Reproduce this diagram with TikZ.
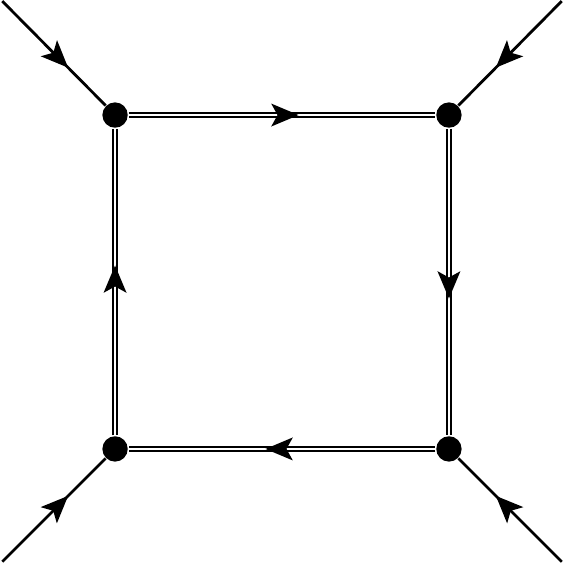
\documentclass[tikz,border=0pt]{standalone}
\usetikzlibrary{decorations.markings,arrows.meta,calc,positioning}
\newcommand{\tipfill}{\fill (0.3pt,0) -- (-6.6pt,2.9pt) -- (-5pt,0) -- (-6.6pt,-2.9pt) -- cycle;}
\tikzset{
    vertex/.style={circle, fill=black, inner sep=0pt, minimum size=6.4pt},
    leg/.style={line width=0.7pt, postaction={decorate},
        decoration={markings, mark=at position 0.63 with {\tipfill}}},
    dline/.style={double, double distance=0.5pt, line width=0.6pt, postaction={decorate},
        decoration={markings, mark=at position 0.55 with {\tipfill}}}
}

\begin{document}
\begin{tikzpicture}
    \useasboundingbox (-2.5,-2.5) rectangle (2.5,2.5);
    % Draw vertices.
    \foreach \n/\x/\y in {a/-1.48/1.48, b/1.48/1.48, c/1.48/-1.48, d/-1.48/-1.48}
        \node[vertex] (\n) at (\x,\y) {};

    % Draw external legs.
    \foreach \n/\x/\y in {a/-2.48/2.49, b/2.48/2.49, c/2.48/-2.48, d/-2.48/-2.48}
        \coordinate (i\n) at (\x,\y);
    \foreach \n in {a,b,c,d}
        \draw[leg] (i\n) -- (\n);

    % Draw the box.
    \draw[dline] (a) -- (b);
    \draw[dline] (b) -- (c);
    \draw[dline] (c) -- (d);
    \draw[dline] (d) -- (a);
\end{tikzpicture}
\end{document}
